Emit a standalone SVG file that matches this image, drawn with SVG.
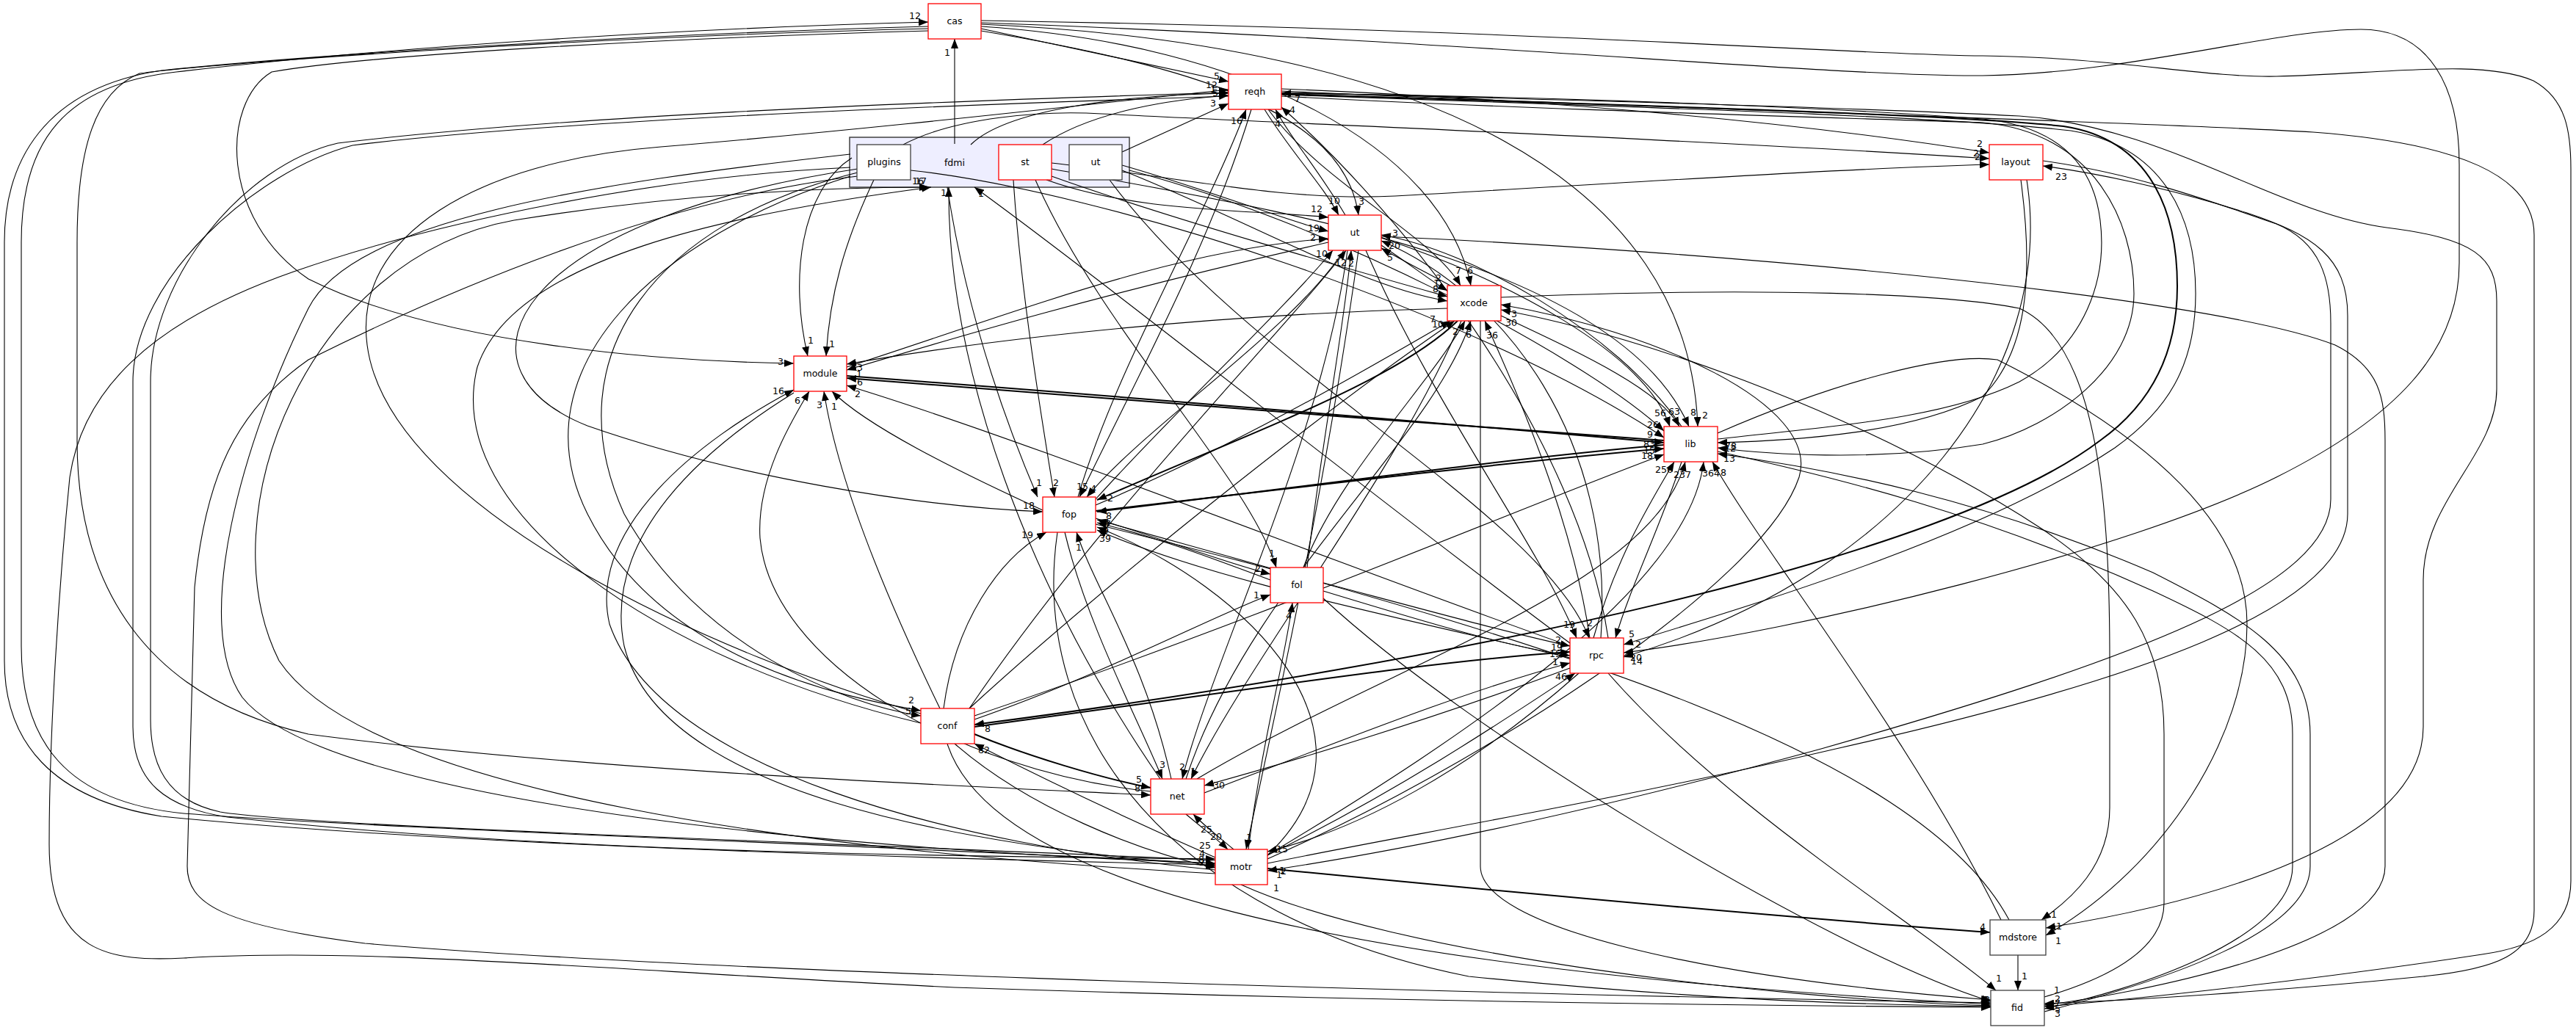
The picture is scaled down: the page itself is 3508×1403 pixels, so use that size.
<svg xmlns="http://www.w3.org/2000/svg" width="3508" height="1403" viewBox="0 0 3508 1403">
<style>
.bg{fill:#fff}
.nd rect{fill:#fff;stroke:#404040;stroke-width:1.3}
.nd rect.r{stroke:#ff0000}
.nd text,.cl text{font-family:"DejaVu Sans","Liberation Sans",sans-serif;font-size:12.6px;text-anchor:middle;fill:#000}
.cl rect{fill:#eeeeff;stroke:#404040;stroke-width:1.5}
.ed path{fill:none;stroke:#000;stroke-width:1.1;marker-end:url(#a)}
.ed path.t{stroke-width:2}
.lb text{font-family:"DejaVu Sans","Liberation Sans",sans-serif;font-size:12.6px;fill:#000;text-anchor:middle}
</style>
<defs>
<marker id="a" markerWidth="14" markerHeight="10" refX="13" refY="5" orient="auto" markerUnits="userSpaceOnUse"><path d="M0,0 L13,5 L0,10 z" fill="#000"/></marker>
</defs>
<rect class="bg" x="0" y="0" width="3508" height="1403"/>
<g id="cluster_fdmi" class="cl"><rect x="1157" y="187" width="381" height="68"/><text x="1300" y="226">fdmi</text></g>
<g id="edges" class="ed">
<path d="M1655,1176 C1150,1150 500,1128 250,1108 C90,1092 29,1010 29,880 L29,330 C29,190 90,115 240,98 C550,62 950,38 1264,30"/>
<path d="M1264,36 C900,46 450,72 220,96 C60,120 6,220 6,330 L6,900 C6,1010 70,1088 220,1112 C600,1150 1200,1168 1655,1178"/>
<path d="M1300,196 L1300,53"/>
<path d="M1336,39 L1673,111"/>
<path d="M1336,42 C1620,90 1830,150 1850,293"/>
<path d="M1336,36 C1700,60 1965,200 2003,389"/>
<path d="M1336,33 C1950,60 2300,250 2312,581"/>
<path d="M1336,31 C2000,55 2500,105 2700,103 C2900,100 3100,40 3215,40 C3310,40 3349,120 3349,224 L3349,358 C3349,480 3260,570 3100,650 C2900,750 2450,860 2211,889"/>
<path d="M1336,28 C2100,40 2550,76 2700,76 C2880,78 3000,106 3100,104 C3250,100 3380,80 3450,110 C3495,135 3501,180 3501,230 L3501,1200 C3501,1265 3450,1290 3380,1300 C3150,1335 2900,1362 2784,1371"/>
<path d="M1264,42 C900,52 500,75 370,98 C300,140 300,300 420,380 C600,470 900,492 1081,495"/>
<path d="M1655,1172 C1100,1146 420,1126 300,1106 C225,1090 205,1040 205,980 L205,520 C205,380 330,225 460,195 C750,160 1200,140 1673,126"/>
<path d="M1673,131 C1200,146 720,168 480,198 C350,232 181,380 181,520 L181,990 C181,1065 225,1100 310,1113 C720,1158 1200,1166 1655,1170"/>
<path d="M1254,972 C1000,900 530,700 500,470 C480,320 650,220 900,200 C1200,175 1500,140 1673,122"/>
<path d="M1322,197 C1370,150 1520,130 1673,127"/>
<path d="M1420,197 C1490,150 1600,135 1673,130"/>
<path d="M1528,207 L1673,141"/>
<path d="M1468,677 C1520,500 1640,300 1697,149"/>
<path d="M1704,149 C1650,330 1540,530 1470,677"/>
<path d="M1832,293 C1795,230 1755,185 1737,149"/>
<path d="M1722,149 C1760,210 1800,250 1823,293"/>
<path d="M2339,598 C2500,580 2650,570 2750,520 C2840,470 2870,380 2860,300 C2850,220 2800,172 2700,162 C2400,140 2000,130 1745,127"/>
<path d="M1745,131 C2100,150 2500,160 2700,167 C2850,180 2906,300 2906,400 C2906,500 2800,580 2700,605 C2550,630 2400,618 2339,610"/>
<path d="M2190,869 C2150,600 1920,300 1745,146"/>
<path d="M1745,121 C2200,140 2500,175 2709,208"/>
<path d="M1230,197 C1300,160 1420,150 1500,155 C1800,170 2300,190 2709,216"/>
<path d="M1432,222 C1600,240 1750,275 1900,267 C2200,250 2500,230 2709,224"/>
<path d="M1726,1176 C1900,1140 2200,1090 2500,1020 C2900,930 3197,830 3197,700 L3197,430 C3197,350 3150,320 3060,290 C2950,255 2850,235 2782,226"/>
<path d="M2782,219 C2900,235 3000,270 3100,305 C3160,330 3174,380 3174,440 L3174,680 C3174,800 2900,900 2480,1020 C2150,1110 1900,1160 1726,1186"/>
<path d="M1745,124 C2300,150 2900,165 3150,180 C3350,195 3451,240 3451,320 L3451,1240 C3451,1300 3400,1320 3300,1330 C3100,1350 2900,1363 2784,1367"/>
<path d="M1745,126 C2300,140 2600,150 2750,158 C2950,172 3100,290 3250,310 C3370,325 3400,350 3400,410 L3400,530 C3400,620 3300,680 3300,790 L3300,990 C3300,1150 3000,1230 2786,1264"/>
<path d="M1881,322 C2300,340 3000,400 3180,470 C3240,500 3248,540 3248,600 L3248,1180 C3248,1290 2900,1355 2784,1369"/>
<path d="M2044,405 C2400,390 2650,400 2750,420 C2860,470 2873,700 2873,900 L2873,1100 C2873,1180 2820,1225 2780,1253"/>
<path d="M2339,590 C2500,520 2650,480 2720,490 C2900,580 3060,700 3060,850 C3060,1000 2950,1180 2786,1274"/>
<path d="M2339,615 C2500,650 2700,700 2932,805 C3050,860 3122,900 3122,1000 L3122,1180 C3122,1280 2900,1350 2784,1374"/>
<path d="M2784,1378 C2950,1335 3146,1270 3146,1180 L3146,1000 C3146,890 3050,840 2932,780 C2700,680 2500,640 2339,618"/>
<path d="M2016,437 L2016,1180 C2016,1260 2300,1330 2711,1362"/>
<path d="M2784,1358 C2880,1330 2947,1290 2947,1230 L2947,1000 C2947,880 2900,800 2780,720 C2550,570 2250,460 2044,422"/>
<path d="M2752,245 C2770,380 2760,480 2700,540 C2600,590 2450,600 2339,603"/>
<path d="M1727,149 C1800,250 1950,320 1989,389"/>
<path d="M1881,334 C1920,360 1945,380 1971,396"/>
<path d="M1432,240 C1600,300 1850,370 1971,404"/>
<path d="M1528,232 C1700,300 1850,390 1971,410"/>
<path d="M1492,688 C1700,600 1900,480 1975,437"/>
<path d="M1320,965 C1500,800 1800,560 1981,437"/>
<path d="M1775,773 C1820,650 1950,520 1995,437"/>
<path d="M1615,1061 C1700,800 1950,600 2003,437"/>
<path d="M2165,869 C2140,700 2060,520 2022,437"/>
<path d="M1726,1170 C2000,1050 2400,800 2450,650 C2480,550 2250,450 2044,415"/>
<path d="M1881,324 C2050,380 2240,480 2274,581"/>
<path d="M2044,430 C2150,480 2260,530 2287,581"/>
<path d="M1432,230 C1700,280 2200,350 2300,581"/>
<path d="M1538,232 C1800,300 2150,480 2266,587"/>
<path d="M1240,232 C1500,260 2000,420 2266,596"/>
<path class="t" d="M1153,512 C1600,545 2000,580 2266,603"/>
<path class="t" d="M1492,696 C1800,660 2050,630 2266,611"/>
<path d="M1327,975 C1700,850 2100,680 2266,619"/>
<path d="M2170,869 C2200,760 2250,680 2280,629"/>
<path d="M1630,1061 C1900,900 2250,800 2295,629"/>
<path d="M1726,1165 C2000,1000 2300,800 2320,629"/>
<path d="M2725,1253 C2600,1000 2400,750 2332,629"/>
<path class="t" d="M2266,600 C1900,575 1500,540 1153,515"/>
<path d="M1809,330 C1500,400 1300,460 1153,504"/>
<path d="M1971,420 C1600,430 1300,470 1153,496"/>
<path d="M2138,880 C1800,760 1400,600 1153,525"/>
<path d="M1420,695 C1300,640 1180,580 1133,533"/>
<path d="M1280,965 C1200,800 1140,650 1122,533"/>
<path d="M1567,1078 C1300,1050 1050,900 1035,733 C1030,650 1080,570 1102,533"/>
<path d="M1655,1185 C1300,1150 900,1050 830,850 C800,720 950,600 1081,531"/>
<path d="M1081,535 C960,610 820,730 850,880 C900,1080 1300,1150 1655,1180"/>
<path d="M1160,215 C1090,260 1075,380 1100,485"/>
<path d="M1190,245 C1150,330 1130,400 1125,485"/>
<path d="M1290,255 C1320,450 1380,600 1413,677"/>
<path d="M1380,245 C1390,400 1420,580 1436,677"/>
<path d="M1830,341 C1760,450 1560,580 1480,677"/>
<path class="t" d="M1985,437 C1900,520 1700,590 1494,681"/>
<path class="t" d="M2266,606 C2050,625 1800,660 1494,697"/>
<path d="M1730,790 C1650,760 1570,730 1494,712"/>
<path d="M2736,1253 C2600,1000 2000,850 1494,708"/>
<path d="M1726,1165 C1900,1000 1700,800 1494,718"/>
<path d="M2138,896 C1900,840 1650,790 1494,722"/>
<path d="M1168,230 C700,300 600,500 800,580 C1000,650 1250,690 1420,697"/>
<path d="M1285,965 C1300,850 1360,760 1425,725"/>
<path d="M1595,1061 C1560,900 1490,800 1466,725"/>
<path d="M1492,706 C1600,740 1680,770 1730,782"/>
<path d="M1410,245 C1500,450 1700,650 1738,773"/>
<path d="M1327,980 C1500,920 1650,840 1730,810"/>
<path d="M1700,1157 C1720,1000 1750,900 1760,821"/>
<path d="M1780,773 C1800,600 1830,450 1840,341"/>
<path d="M1320,965 C1500,700 1750,450 1833,341"/>
<path d="M1492,680 C1600,560 1750,420 1815,341"/>
<path d="M1153,500 C1400,420 1600,340 1809,325"/>
<path d="M1528,225 C1650,260 1750,300 1809,315"/>
<path d="M1425,245 C1550,290 1700,285 1809,296"/>
<path d="M2290,581 C2200,450 2000,340 1881,320"/>
<path d="M2180,869 C2200,600 2050,400 1881,328"/>
<path d="M1975,389 C1940,370 1910,355 1881,338"/>
<path d="M1860,341 C1950,550 2100,750 2147,869"/>
<path d="M1511,245 C1700,500 2100,700 2164,869"/>
<path d="M2290,629 C2260,720 2220,800 2200,869"/>
<path d="M1745,129 C2200,145 2650,158 2820,178 C2950,200 2990,300 2990,400 C2990,500 2950,560 2880,610 C2700,730 2400,820 2211,878"/>
<path class="t" d="M1745,128 C2200,143 2650,155 2810,172 C2930,190 2965,290 2965,390 C2965,480 2930,550 2860,600 C2650,760 2000,900 1327,987"/>
<path d="M1492,714 C1800,790 2000,850 2138,880"/>
<path class="t" d="M1327,990 C1700,940 1950,900 2138,888"/>
<path d="M1802,805 C1950,850 2050,880 2138,893"/>
<path d="M1640,1080 C1850,1000 2000,940 2138,903"/>
<path d="M1726,1165 C1900,1080 2050,980 2145,917"/>
<path d="M2760,245 C2800,500 2600,780 2211,895"/>
<path d="M2150,917 C2000,1050 1850,1130 1726,1160"/>
<path d="M2190,917 C2350,1100 2600,1250 2718,1349"/>
<path d="M2138,910 C1950,980 1750,1040 1640,1070"/>
<path d="M1450,725 C1480,850 1550,980 1583,1061"/>
<path d="M1835,341 C1800,600 1650,900 1610,1061"/>
<path d="M1990,437 C1900,650 1700,900 1622,1061"/>
<path class="t" d="M1327,1000 C1400,1030 1500,1060 1567,1073"/>
<path d="M1264,39 C800,50 300,85 190,100 C130,125 105,200 105,330 L105,600 C105,800 200,950 420,1000 C800,1050 1300,1070 1567,1083"/>
<path d="M1680,1157 C1660,1140 1640,1125 1625,1109"/>
<path d="M1615,1109 C1640,1130 1660,1145 1672,1157"/>
<path d="M1850,341 C1800,700 1730,1000 1697,1157"/>
<path d="M1158,210 C800,250 480,300 420,420 C330,600 260,850 330,950 C450,1100 1200,1160 1655,1176"/>
<path d="M1655,1190 C1100,1160 500,1080 380,900 C280,700 420,350 700,300 C950,260 1150,255 1265,255"/>
<path d="M1254,985 C900,900 600,700 650,500 C700,350 1000,290 1268,255"/>
<path d="M1580,1061 C1400,800 1290,500 1292,255"/>
<path d="M2138,876 C1900,700 1500,380 1327,255"/>
<path d="M1655,1168 C1500,1100 1400,1050 1327,1013"/>
<path d="M1300,1013 C1400,1100 1550,1160 1655,1182"/>
<path d="M1158,240 C900,320 700,500 800,700 C900,900 1150,950 1254,968"/>
<path d="M1168,235 C900,300 750,480 850,700 C950,880 1150,960 1254,975"/>
<path class="t" d="M1726,1183 C2100,1220 2500,1255 2710,1270"/>
<path d="M2748,1301 L2748,1349"/>
<path d="M1690,1205 C1900,1300 2400,1360 2711,1370"/>
<path d="M1158,228 C900,240 600,300 400,370 C200,440 112,535 95,650 C80,800 67,1000 67,1150 C67,1300 150,1310 250,1305 C500,1290 800,1320 1300,1345 C1900,1365 2400,1370 2711,1372"/>
<path d="M1168,240 C900,270 600,400 420,490 C320,560 280,650 265,800 L255,1180 C255,1230 300,1260 497,1285 C900,1320 1800,1350 2711,1366"/>
<path d="M1290,1013 C1350,1200 1800,1320 2711,1368"/>
<path d="M1440,725 C1400,1000 1600,1250 2000,1330 C2300,1360 2500,1368 2711,1371"/>
<path d="M1802,815 C2000,1000 2500,1300 2711,1364"/>
</g>
<g id="labels" class="lb">
<text x="1246" y="26">12</text>
<text x="1290" y="76">1</text>
<text x="1657" y="108">5</text>
<text x="1650" y="120">12</text>
<text x="1652" y="126">1</text>
<text x="1655" y="131">5</text>
<text x="1652" y="145">3</text>
<text x="1767" y="139">7</text>
<text x="1760" y="154">4</text>
<text x="1684" y="169">16</text>
<text x="1740" y="173">4</text>
<text x="2696" y="200">2</text>
<text x="2691" y="213">2</text>
<text x="2693" y="218">2</text>
<text x="2807" y="245">23</text>
<text x="1250" y="251">16</text>
<text x="1254" y="251">17</text>
<text x="1285" y="267">1</text>
<text x="1336" y="268">1</text>
<text x="1817" y="278">10</text>
<text x="1854" y="279">3</text>
<text x="1793" y="289">12</text>
<text x="1789" y="315">19</text>
<text x="1788" y="328">2</text>
<text x="1800" y="350">10</text>
<text x="1826" y="362">12</text>
<text x="1840" y="363">2</text>
<text x="1900" y="322">3</text>
<text x="1899" y="339">20</text>
<text x="1893" y="355">5</text>
<text x="1986" y="373">7</text>
<text x="2002" y="373">6</text>
<text x="1959" y="383">2</text>
<text x="1956" y="390">1</text>
<text x="1955" y="398">8</text>
<text x="2062" y="432">3</text>
<text x="2058" y="444">30</text>
<text x="1951" y="439">7</text>
<text x="1958" y="446">10</text>
<text x="1982" y="456">2</text>
<text x="2000" y="460">6</text>
<text x="2032" y="461">36</text>
<text x="1063" y="497">3</text>
<text x="1171" y="505">3</text>
<text x="1170" y="514">1</text>
<text x="1171" y="525">6</text>
<text x="1168" y="541">2</text>
<text x="1104" y="468">1</text>
<text x="1133" y="473">1</text>
<text x="1060" y="537">16</text>
<text x="1086" y="550">6</text>
<text x="1116" y="556">3</text>
<text x="1136" y="558">1</text>
<text x="2261" y="567">56</text>
<text x="2280" y="565">63</text>
<text x="2306" y="566">8</text>
<text x="2322" y="570">2</text>
<text x="2251" y="583">26</text>
<text x="2247" y="596">9</text>
<text x="2246" y="609">83</text>
<text x="2246" y="618">15</text>
<text x="2243" y="625">18</text>
<text x="2357" y="612">78</text>
<text x="2356" y="615">12</text>
<text x="2355" y="629">13</text>
<text x="2266" y="644">256</text>
<text x="2291" y="651">237</text>
<text x="2330" y="649">364</text>
<text x="2347" y="648">8</text>
<text x="1415" y="662">1</text>
<text x="1438" y="662">2</text>
<text x="1474" y="667">15</text>
<text x="1489" y="670">4</text>
<text x="1512" y="683">2</text>
<text x="1401" y="693">18</text>
<text x="1510" y="707">8</text>
<text x="1507" y="716">4</text>
<text x="1509" y="718">7</text>
<text x="1506" y="727">9</text>
<text x="1505" y="738">39</text>
<text x="1399" y="733">19</text>
<text x="1469" y="750">1</text>
<text x="1732" y="758">1</text>
<text x="1713" y="779">2</text>
<text x="1711" y="815">1</text>
<text x="1755" y="843">4</text>
<text x="2137" y="855">19</text>
<text x="2165" y="853">2</text>
<text x="2222" y="868">5</text>
<text x="2231" y="882">2</text>
<text x="2122" y="876">2</text>
<text x="2120" y="886">19</text>
<text x="2118" y="895">15</text>
<text x="2118" y="906">1</text>
<text x="2126" y="926">46</text>
<text x="2228" y="900">20</text>
<text x="2229" y="905">14</text>
<text x="1241" y="958">2</text>
<text x="1237" y="973">5</text>
<text x="1345" y="997">8</text>
<text x="1340" y="1026">82</text>
<text x="1583" y="1046">3</text>
<text x="1610" y="1049">2</text>
<text x="1625" y="1055">1</text>
<text x="1660" y="1074">30</text>
<text x="1551" y="1066">5</text>
<text x="1549" y="1078">8</text>
<text x="1643" y="1134">25</text>
<text x="1656" y="1144">20</text>
<text x="1701" y="1145">1</text>
<text x="1641" y="1156">25</text>
<text x="1637" y="1167">4</text>
<text x="1636" y="1175">8</text>
<text x="1637" y="1179">2</text>
<text x="1746" y="1161">15</text>
<text x="1746" y="1190">1</text>
<text x="1748" y="1191">2</text>
<text x="1742" y="1196">1</text>
<text x="1738" y="1214">1</text>
<text x="2700" y="1267">4</text>
<text x="2797" y="1250">1</text>
<text x="2804" y="1266">1</text>
<text x="2803" y="1286">1</text>
<text x="2757" y="1334">1</text>
<text x="2722" y="1337">1</text>
<text x="2704" y="1366">2</text>
<text x="2706" y="1366">8</text>
<text x="2705" y="1370">4</text>
<text x="2801" y="1353">1</text>
<text x="2802" y="1365">2</text>
<text x="2802" y="1371">7</text>
<text x="2802" y="1378">5</text>
<text x="2802" y="1385">3</text>
</g>
<g id="node_cas" class="nd"><rect class="r" x="1264" y="5" width="72" height="48"/><text x="1300" y="33">cas</text></g>
<g id="node_reqh" class="nd"><rect class="r" x="1673" y="101" width="72" height="48"/><text x="1709" y="129">reqh</text></g>
<g id="node_layout" class="nd"><rect class="r" x="2709" y="197" width="73" height="48"/><text x="2745" y="225">layout</text></g>
<g id="node_plugins" class="nd"><rect x="1167" y="197" width="73" height="48"/><text x="1204" y="225">plugins</text></g>
<g id="node_st" class="nd"><rect class="r" x="1360" y="197" width="72" height="48"/><text x="1396" y="225">st</text></g>
<g id="node_fdmi_ut" class="nd"><rect x="1456" y="197" width="72" height="48"/><text x="1492" y="225">ut</text></g>
<g id="node_ut" class="nd"><rect class="r" x="1809" y="293" width="72" height="48"/><text x="1845" y="321">ut</text></g>
<g id="node_xcode" class="nd"><rect class="r" x="1971" y="389" width="73" height="48"/><text x="2007" y="417">xcode</text></g>
<g id="node_module" class="nd"><rect class="r" x="1081" y="485" width="72" height="48"/><text x="1117" y="513">module</text></g>
<g id="node_lib" class="nd"><rect class="r" x="2266" y="581" width="73" height="48"/><text x="2302" y="609">lib</text></g>
<g id="node_fop" class="nd"><rect class="r" x="1420" y="677" width="72" height="48"/><text x="1456" y="705">fop</text></g>
<g id="node_fol" class="nd"><rect class="r" x="1730" y="773" width="72" height="48"/><text x="1766" y="801">fol</text></g>
<g id="node_rpc" class="nd"><rect class="r" x="2138" y="869" width="73" height="48"/><text x="2174" y="897">rpc</text></g>
<g id="node_conf" class="nd"><rect class="r" x="1254" y="965" width="73" height="48"/><text x="1290" y="993">conf</text></g>
<g id="node_net" class="nd"><rect class="r" x="1567" y="1061" width="73" height="48"/><text x="1603" y="1089">net</text></g>
<g id="node_motr" class="nd"><rect class="r" x="1655" y="1157" width="71" height="48"/><text x="1690" y="1185">motr</text></g>
<g id="node_mdstore" class="nd"><rect x="2710" y="1253" width="76" height="48"/><text x="2748" y="1281">mdstore</text></g>
<g id="node_fid" class="nd"><rect x="2711" y="1349" width="73" height="48"/><text x="2747" y="1377">fid</text></g>
</svg>
